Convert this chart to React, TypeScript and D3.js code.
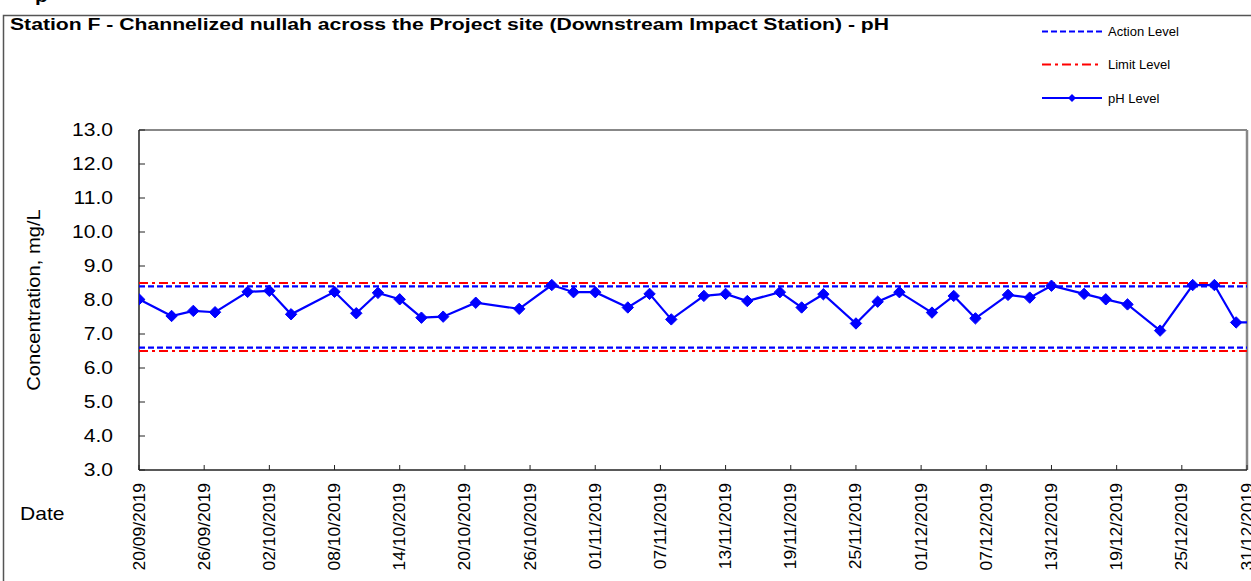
import React from "react";
import * as d3 from "d3";

const title = "Station F - Channelized nullah across the Project site (Downstream Impact Station) - pH";
const yLabel = "Concentration, mg/L";
const xLabel = "Date";

const sampleDates = [
  "20/09/2019", "23/09/2019", "25/09/2019", "27/09/2019", "30/09/2019", "02/10/2019", "04/10/2019",
  "08/10/2019", "10/10/2019", "12/10/2019", "14/10/2019", "16/10/2019", "18/10/2019", "21/10/2019",
  "25/10/2019", "28/10/2019", "30/10/2019", "01/11/2019", "04/11/2019", "06/11/2019", "08/11/2019",
  "11/11/2019", "13/11/2019", "15/11/2019", "18/11/2019", "20/11/2019", "22/11/2019", "25/11/2019",
  "27/11/2019", "29/11/2019", "02/12/2019", "04/12/2019", "06/12/2019", "09/12/2019", "11/12/2019",
  "13/12/2019", "16/12/2019", "18/12/2019", "20/12/2019", "23/12/2019", "26/12/2019", "28/12/2019",
  "30/12/2019", "02/01/2020",
];
const phValues = [
  8.02, 7.53, 7.68, 7.64, 8.24, 8.27, 7.58,
  8.24, 7.61, 8.21, 8.02, 7.48, 7.51, 7.92,
  7.74, 8.44, 8.23, 8.23, 7.78, 8.18, 7.43,
  8.12, 8.18, 7.97, 8.23, 7.78, 8.17, 7.31,
  7.95, 8.23, 7.63, 8.12, 7.46, 8.15, 8.07,
  8.42, 8.18, 8.02, 7.87, 7.10, 8.44, 8.44,
  7.34, 7.34,
];
const actionLevels = [8.4, 6.6];
const limitLevels = [8.5, 6.5];
const xTickLabels = [
  "20/09/2019", "26/09/2019", "02/10/2019", "08/10/2019", "14/10/2019", "20/10/2019",
  "26/10/2019", "01/11/2019", "07/11/2019", "13/11/2019", "19/11/2019", "25/11/2019",
  "01/12/2019", "07/12/2019", "13/12/2019", "19/12/2019", "25/12/2019", "31/12/2019",
];
const yTicks = [3, 4, 5, 6, 7, 8, 9, 10, 11, 12, 13];
const legendItems = ["Action Level", "Limit Level", "pH Level"];

const parse = (s: string) => {
  const [d, m, y] = s.split("/").map(Number);
  return new Date(Date.UTC(y, m - 1, d));
};

const FONT = "'Liberation Sans', Arial, sans-serif";
const BLUE = "#0000FF";
const RED = "#FF0000";

export default function App() {
  const left = 139, right = 1247, top = 130, bottom = 470;
  const x = d3.scaleUtc()
    .domain([parse(xTickLabels[0]), parse(xTickLabels[xTickLabels.length - 1])])
    .range([left, right]);
  const y = d3.scaleLinear().domain([3, 13]).range([bottom, top]);
  const pts = sampleDates.map((d, i) => [x(parse(d)), y(phValues[i])] as [number, number]);
  const line = d3.line()(pts) || "";
  const diamond = (r: number) => `M0,${-r}L${r},0L0,${r}L${-r},0Z`;
  const fmt = d3.format(".1f");

  return (
    <svg width={1251} height={581} style={{ position: "absolute", left: 0, top: 0, display: "block", background: "#fff" }} fontFamily={FONT}>
      <defs>
        <clipPath id="plotClip">
          <rect x={left} y={top - 10} width={right - left} height={bottom - top + 10} />
        </clipPath>
      </defs>
      <rect x={0} y={0} width={1251} height={581} fill="#fff" />
      <g transform="translate(35,2) scale(1.3,1)">
        <text x={0} y={0} fontSize={16} fontWeight="bold" fill="#000">p</text>
      </g>
      <rect x={3.5} y={15.5} width={1260} height={600} fill="none" stroke="#555" strokeWidth={1.5} />
      <text x={10} y={30} fontSize={16} fontWeight="bold" fill="#000" textLength={879} lengthAdjust="spacingAndGlyphs">{title}</text>

      {/* plot frame */}
      <line x1={left} x2={right} y1={top} y2={top} stroke="#888" strokeWidth={2} />
      <line x1={right} x2={right} y1={top} y2={bottom} stroke="#888" strokeWidth={2.5} />

      {/* y ticks */}
      {yTicks.map(t => (
        <g key={t}>
          <line x1={left} x2={left + 6} y1={y(t)} y2={y(t)} stroke="#222" strokeWidth={1} />
          <g transform={`translate(113,${y(t)}) scale(1.17,1)`}>
            <text x={0} y={0} dy="0.35em" textAnchor="end" fontSize={18} fill="#000">{fmt(t)}</text>
          </g>
        </g>
      ))}
      {/* x ticks */}
      {xTickLabels.map(s => {
        const xx = x(parse(s));
        return (
          <g key={s}>
            <line x1={xx} x2={xx} y1={bottom} y2={bottom - 5} stroke="#222" strokeWidth={1} />
            <g transform={`translate(${xx + 5.5},483) rotate(-90) scale(1.06,1)`}>
              <text x={0} y={0} textAnchor="end" fontSize={16.5} fill="#000">{s}</text>
            </g>
          </g>
        );
      })}
      <line x1={left} x2={left} y1={top} y2={bottom} stroke="#222" strokeWidth={1.5} />
      <line x1={left} x2={right} y1={bottom} y2={bottom} stroke="#222" strokeWidth={1.5} />

      {/* reference levels */}
      {limitLevels.map(v => (
        <line key={"l" + v} x1={left} x2={right} y1={y(v)} y2={y(v)} stroke={RED} strokeWidth={2.2} strokeDasharray="9,4,3,4" />
      ))}
      {actionLevels.map(v => (
        <line key={"a" + v} x1={left} x2={right} y1={y(v)} y2={y(v)} stroke={BLUE} strokeWidth={2.2} strokeDasharray="6,3" />
      ))}

      {/* pH series */}
      <g clipPath="url(#plotClip)">
        <path d={line} fill="none" stroke={BLUE} strokeWidth={2.2} />
        {pts.map((p, i) => (
          <path key={i} d={diamond(5.7)} transform={`translate(${p[0]},${p[1]})`} fill={BLUE} stroke={BLUE} strokeWidth={1} />
        ))}
      </g>

      <g transform="translate(40,300) rotate(-90) scale(1.12,1)">
        <text x={0} y={0} textAnchor="middle" fontSize={18} fill="#000">{yLabel}</text>
      </g>
      <g transform="translate(20,520) scale(1.17,1)">
        <text x={0} y={0} fontSize={18} fill="#000">{xLabel}</text>
      </g>

      {/* legend */}
      {legendItems.map((name, i) => {
        const ly = [31.5, 64.5, 98][i];
        return (
          <g key={name}>
            {i === 0 && <line x1={1042} x2={1102} y1={ly} y2={ly} stroke={BLUE} strokeWidth={2} strokeDasharray="6,3" />}
            {i === 1 && <line x1={1042} x2={1102} y1={ly} y2={ly} stroke={RED} strokeWidth={2} strokeDasharray="9,4,3,4" />}
            {i === 2 && (
              <g>
                <line x1={1042} x2={1102} y1={ly} y2={ly} stroke={BLUE} strokeWidth={2} />
                <path d={diamond(4)} transform={`translate(1072,${ly})`} fill={BLUE} />
              </g>
            )}
            <text x={1108} y={ly} dy="0.35em" fontSize={13} fill="#000">{name}</text>
          </g>
        );
      })}
    </svg>
  );
}
